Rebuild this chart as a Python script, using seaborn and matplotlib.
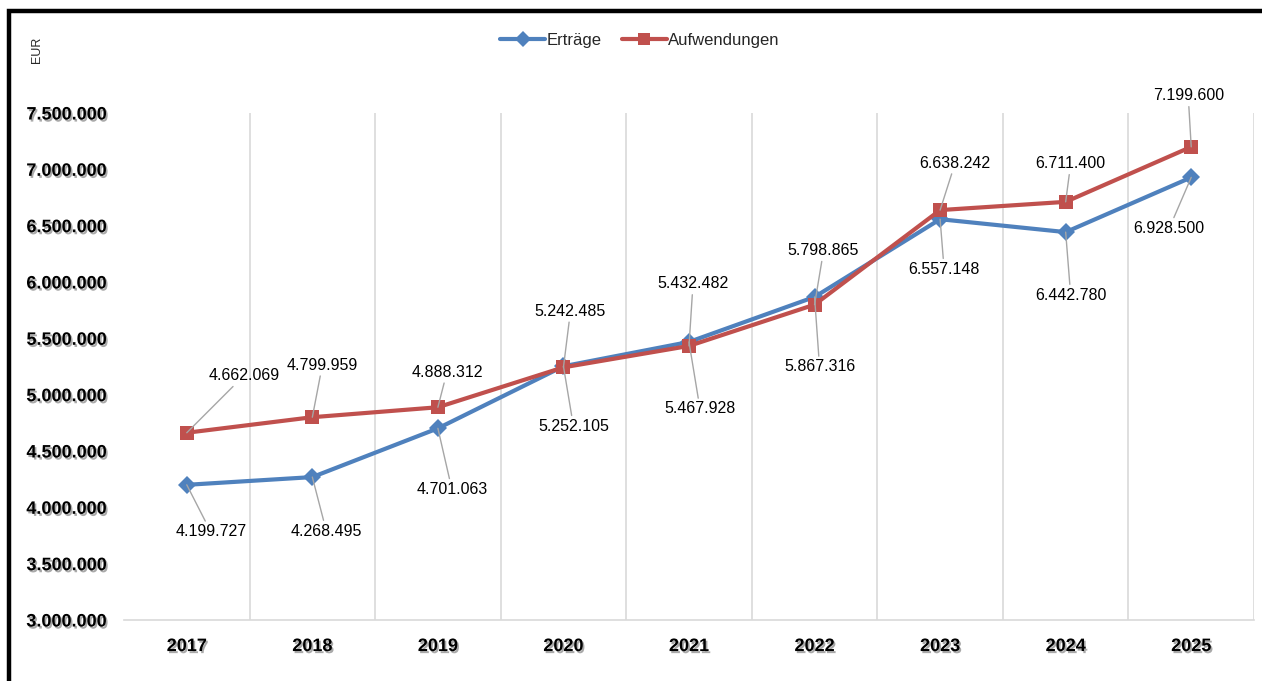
import matplotlib
matplotlib.use("Agg")
import matplotlib.pyplot as plt
import matplotlib.patheffects as pe
from matplotlib.lines import Line2D
from matplotlib.patches import Rectangle
from matplotlib.ticker import FuncFormatter, FixedLocator
import seaborn as sns
import pandas as pd

# Jahreswerte
years = [2017, 2018, 2019, 2020, 2021, 2022, 2023, 2024, 2025]
ertraege = [4199727, 4268495, 4701063, 5252105, 5467928, 5867316, 6557148, 6442780, 6928500]
aufwendungen = [4662069, 4799959, 4888312, 5242485, 5432482, 5798865, 6638242, 6711400, 7199600]
series_names = ["Erträge", "Aufwendungen"]

# Label-Versatz in Pixeln (dx, dy) relativ zum Datenpunkt
off_ertraege = [(24, -47), (14, -54), (14, -61), (10, -60), (11, -67),
                (5, -70), (4, -50), (5, -63), (-22, -51)]
off_aufw = [(57, 57), (10, 52), (9, 35), (7, 56), (4, 62),
            (9, 54), (15, 47), (5, 38), (-3, 51)]

BLUE = "#4F81BD"
RED = "#C0504D"
FONT = "Liberation Sans"

sns.set_theme(style="white")
plt.rcParams["font.family"] = [FONT, "DejaVu Sans"]

df = pd.DataFrame({
    "Jahr": years * 2,
    "Wert": ertraege + aufwendungen,
    "Reihe": [series_names[0]] * len(years) + [series_names[1]] * len(years),
})

fig = plt.figure(figsize=(12.62, 6.81), dpi=100)
ax = fig.add_axes([124 / 1262, 1 - 620 / 681, 1130 / 1262, 507 / 681])

sns.lineplot(
    data=df, x="Jahr", y="Wert", hue="Reihe", style="Reihe",
    palette={series_names[0]: BLUE, series_names[1]: RED},
    markers={series_names[0]: "D", series_names[1]: "s"},
    dashes=False, linewidth=3, markersize=9.5, markeredgewidth=0,
    legend=False, ax=ax, zorder=2,
)

ax.set_xlim(years[0] - 0.5, years[-1] + 0.5)
ax.set_ylim(3000000, 7500000)
ax.set_xticks(years)
ax.xaxis.set_minor_locator(FixedLocator([y + 0.5 for y in years]))
ax.grid(False)
ax.grid(which="minor", axis="x", color="#D9D9D9", linewidth=1.2)
ax.set_yticks(range(3000000, 7500001, 500000))
ax.yaxis.set_major_formatter(FuncFormatter(lambda v, _: f"{v:,.0f}".replace(",", ".")))
ax.set_xlabel("")
ax.set_ylabel("")
ax.tick_params(axis="both", length=0, labelsize=13)
ax.tick_params(axis="y", pad=12)
ax.tick_params(axis="x", pad=13)

for side in ["left", "right", "top"]:
    ax.spines[side].set_visible(False)
ax.spines["bottom"].set_color("#D9D9D9")
ax.spines["bottom"].set_linewidth(1.2)

shadow = [pe.SimplePatchShadow(offset=(1.2, -1.5), shadow_rgbFace="#555555", alpha=0.5), pe.Normal()]
for lbl in ax.get_xticklabels() + ax.get_yticklabels():
    lbl.set_fontweight("bold")
    lbl.set_color("black")
    lbl.set_path_effects(shadow)

def fmt(v):
    return f"{v:,.0f}".replace(",", ".")

arrow = dict(arrowstyle="-", color="#A6A6A6", lw=1.0, shrinkA=0, shrinkB=0)
for values, offsets in [(ertraege, off_ertraege), (aufwendungen, off_aufw)]:
    for yr, v, (dx, dy) in zip(years, values, offsets):
        ax.annotate(fmt(v), xy=(yr, v), xytext=(dx, dy), textcoords="offset pixels",
                    ha="center", va="center", fontsize=11.5, color="black",
                    arrowprops=arrow, zorder=4)

handles = [
    Line2D([], [], color=BLUE, lw=3, marker="D", markersize=8, markeredgewidth=0),
    Line2D([], [], color=RED, lw=3, marker="s", markersize=9, markeredgewidth=0),
]
fig.legend(handles, series_names, loc="center", bbox_to_anchor=(640 / 1262, 1 - 40 / 681),
           ncol=2, frameon=False, fontsize=12, handlelength=2.7, handletextpad=0.1,
           columnspacing=1.2)

fig.text(37 / 1262, 1 - 50 / 681, "EUR", rotation=90, ha="center", va="center", fontsize=9)

fig.patches.append(Rectangle((9 / 1262, -0.1), 1.2, 1.1 - 11 / 681, transform=fig.transFigure,
                             fill=False, edgecolor="black", linewidth=3.2, zorder=10))

fig.savefig("out.png", dpi=100)
